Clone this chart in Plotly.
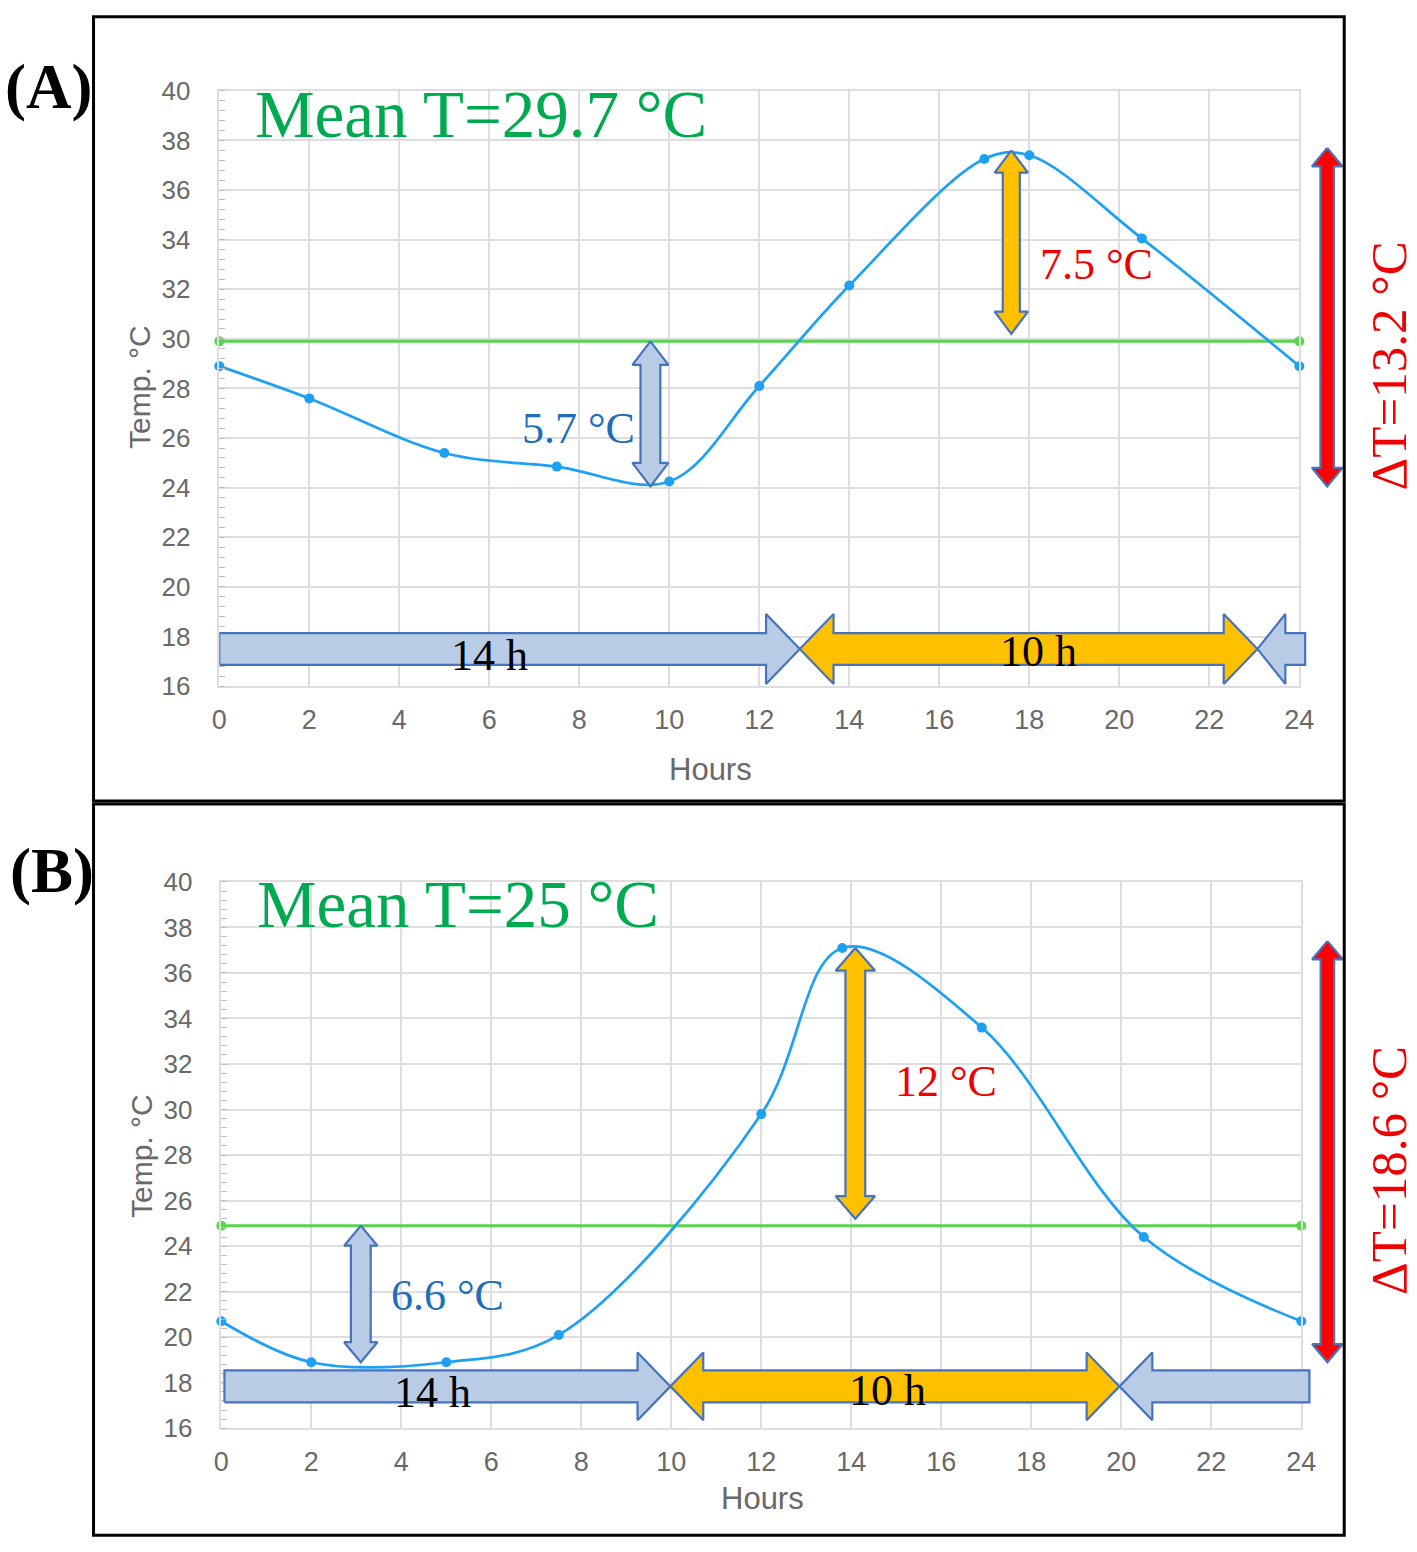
import plotly.graph_objects as go

W, H = 1417, 1552

# ---------------- data ----------------
hours_a = [0, 2, 5, 7.5, 10, 12, 14, 17, 18, 20.5, 24]
temp_a = [28.9, 27.6, 25.4, 24.85, 24.25, 28.1, 32.15, 37.25, 37.4, 34.05, 28.9]
mean_a = 29.9
mean_label_a = "Mean T=29.7 °C"

hours_b = [0, 2, 5, 7.5, 12, 13.8, 16.9, 20.5, 24]
temp_b = [20.7, 18.9, 18.9, 20.1, 29.8, 37.1, 33.6, 24.4, 20.7]
mean_b = 24.9
mean_label_b = "Mean T=25 °C"

x_ticks = list(range(0, 25, 2))
y_ticks = list(range(16, 41, 2))

# annotation arrows: (x position [h], y from, y to, label)
low_arrow_a = (9.58, 29.9, 24.05, "5.7 °C")
high_arrow_a = (17.6, 37.6, 30.2, "7.5 °C")
range_arrow_a = (24.62, 37.7, 24.05, "ΔT=13.2 °C")
bars_a_y = 17.5
bars_a = [(0.0, 12.9, "day"), (12.9, 23.07, "night"), (23.07, 24.13, "day_end")]
bar_labels_a = [(6.0, 17.25, "14 h"), (18.2, 17.4, "10 h")]

low_arrow_b = (3.1, 24.9, 18.9, "6.6 °C")
high_arrow_b = (14.09, 37.1, 25.2, "12 °C")
range_arrow_b = (24.58, 37.4, 18.9, "ΔT=18.6 °C")
bars_b_y = 17.84
bars_b = [(0.07, 9.98, "day"), (9.98, 19.96, "night"), (19.96, 24.18, "day_end")]
bar_labels_b = [(4.7, 17.58, "14 h"), (14.8, 17.67, "10 h")]

# ---------------- styling ----------------
SANS = "Liberation Sans, Arial, sans-serif"
SERIF = "Liberation Serif, Times New Roman, serif"
LINE_BLUE = "rgb(30,160,245)"
MEAN_GREEN = "rgb(90,212,80)"
OUTLINE = "rgb(70,115,190)"
FILL_BLUE = "rgb(184,204,230)"
FILL_ORANGE = "rgb(255,192,0)"
FILL_RED = "rgb(255,0,0)"
TEXT_GREEN = "rgb(0,170,80)"
TEXT_BLUE = "rgb(30,110,185)"
TEXT_RED = "rgb(240,0,0)"
GRID = "rgb(222,222,222)"
TICKC = "rgb(105,105,105)"

# page-to-picture correction measured from earlier renders
OX, SX = 6.3, 0.9856
OY, SY = 13.1, 0.9818


def px(x):
    return ((x - OX) / SX) / W


def py(y):
    return 1 - ((y - OY) / SY) / H


def clamp(v):
    return min(max(v, 0.0012), 0.9988)


# panel domains (pixel-based layout, in reference picture pixels)
dom_a_x = [px(218), px(1300)]
dom_a_y = [py(685), py(89)]
dom_b_x = [px(220), px(1302)]
dom_b_y = [py(1428), py(881)]


def varrow(xc, y0, y1, hw_body, hw_head, hl):
    top, bot = max(y0, y1), min(y0, y1)
    xs = [xc, xc + hw_head, xc + hw_body, xc + hw_body, xc + hw_head, xc,
          xc - hw_head, xc - hw_body, xc - hw_body, xc - hw_head, xc]
    ys = [top, top - hl, top - hl, bot + hl, bot + hl, bot,
          bot + hl, bot + hl, top - hl, top - hl, top]
    return xs, ys


def harrow(x0, x1, yc, hb, hh, hl, left, right):
    xs, ys = [], []
    if left:
        xs += [x0, x0 + hl, x0 + hl]
        ys += [yc, yc + hh, yc + hb]
    else:
        xs += [x0, x0]
        ys += [yc - hb, yc + hb]
    if right:
        xs += [x1 - hl, x1 - hl, x1, x1 - hl, x1 - hl]
        ys += [yc + hb, yc + hh, yc, yc - hh, yc - hb]
    else:
        xs += [x1, x1]
        ys += [yc + hb, yc - hb]
    if left:
        xs += [x0 + hl, x0 + hl, x0]
        ys += [yc - hb, yc - hh, yc]
    else:
        xs += [x0]
        ys += [yc - hb]
    return xs, ys


fig = go.Figure()


def add_panel(i, hours, temps, mean):
    xa = "x" if i == 1 else "x2"
    ya = "y" if i == 1 else "y2"
    fig.add_trace(go.Scatter(x=[0, 24], y=[mean, mean], mode="lines+markers",
                             line=dict(color=MEAN_GREEN, width=3),
                             marker=dict(size=10, color=MEAN_GREEN),
                             xaxis=xa, yaxis=ya, showlegend=False, cliponaxis=False))
    fig.add_trace(go.Scatter(x=hours, y=temps, mode="lines+markers",
                             line=dict(color=LINE_BLUE, width=2.7, shape="spline", smoothing=1.0),
                             marker=dict(size=10, color=LINE_BLUE),
                             xaxis=xa, yaxis=ya, showlegend=False, cliponaxis=False))


def add_poly(xs, ys, fill, ov):
    fig.add_trace(go.Scatter(x=xs, y=ys, mode="lines", fill="toself", fillcolor=fill,
                             line=dict(color=OUTLINE, width=2.2),
                             xaxis="x" + ov, yaxis="y" + ov, showlegend=False,
                             hoverinfo="skip"))


add_panel(1, hours_a, temp_a, mean_a)
add_panel(2, hours_b, temp_b, mean_b)

# --- panel A arrows ---
for (xc, y0, y1, _), fill, dims in [
    (low_arrow_a, FILL_BLUE, (0.22, 0.40, 0.95)),
    (high_arrow_a, FILL_ORANGE, (0.19, 0.37, 0.9)),
    (range_arrow_a, FILL_RED, (0.15, 0.34, 0.75)),
]:
    xs, ys = varrow(xc, y0, y1, *dims)
    add_poly(xs, ys, fill, "3")

for x0, x1, kind in bars_a:
    if kind == "day":
        xs, ys = harrow(x0, x1, bars_a_y, 0.64, 1.41, 0.75, False, True)
        add_poly(xs, ys, FILL_BLUE, "3")
    elif kind == "night":
        xs, ys = harrow(x0, x1, bars_a_y, 0.64, 1.41, 0.75, True, True)
        add_poly(xs, ys, FILL_ORANGE, "3")
    else:
        xs, ys = harrow(x0, x1, bars_a_y, 0.64, 1.41, 0.62, True, False)
        add_poly(xs, ys, FILL_BLUE, "3")

# --- panel B arrows ---
for (xc, y0, y1, _), fill, dims in [
    (low_arrow_b, FILL_BLUE, (0.22, 0.37, 0.88)),
    (high_arrow_b, FILL_ORANGE, (0.22, 0.44, 1.0)),
    (range_arrow_b, FILL_RED, (0.15, 0.34, 0.8)),
]:
    xs, ys = varrow(xc, y0, y1, *dims)
    add_poly(xs, ys, fill, "4")

for x0, x1, kind in bars_b:
    if kind == "day":
        xs, ys = harrow(x0, x1, bars_b_y, 0.70, 1.49, 0.73, False, True)
        add_poly(xs, ys, FILL_BLUE, "4")
    elif kind == "night":
        xs, ys = harrow(x0, x1, bars_b_y, 0.70, 1.49, 0.73, True, True)
        add_poly(xs, ys, FILL_ORANGE, "4")
    else:
        xs, ys = harrow(x0, x1, bars_b_y, 0.70, 1.49, 0.73, True, False)
        add_poly(xs, ys, FILL_BLUE, "4")


def main_x(domain, anchor):
    return dict(domain=domain, range=[0, 24], tickvals=x_ticks, showgrid=True,
                gridcolor=GRID, gridwidth=1.5, zeroline=False, showline=True,
                linecolor=GRID, linewidth=1.5, mirror=True, ticks="",
                ticklabelstandoff=9, anchor=anchor,
                tickfont=dict(family=SANS, size=27, color=TICKC))


def main_y(domain, anchor):
    return dict(domain=domain, range=[16, 40], tickvals=y_ticks, showgrid=True,
                gridcolor=GRID, gridwidth=1.5, zeroline=False, showline=True,
                linecolor=GRID, linewidth=1.5, mirror=True, ticks="",
                ticklabelstandoff=22, anchor=anchor,
                minor=dict(ticks="inside", dtick=0.4, tick0=16, ticklen=6,
                           tickcolor="rgb(190,190,190)", showgrid=False),
                tickfont=dict(family=SANS, size=26, color=TICKC))


def overlay_x(domain, anchor):
    d0, d1 = domain
    D1 = 1.0
    return dict(domain=[d0, D1], range=[0, 24 * (D1 - d0) / (d1 - d0)], visible=False,
                anchor=anchor, showgrid=False, zeroline=False)


def overlay_y(domain, anchor):
    return dict(domain=domain, range=[16, 40], visible=False, anchor=anchor,
                showgrid=False, zeroline=False)


annotations = []


def add_texts(xref, yref, ovx, ovy, mean_label, low, high, rng, bar_labels,
              low_dx, high_dx, low_y, high_y, rng_x, rng_y):
    annotations.append(dict(x=0.75, y=39.05, xref=xref, yref=yref, text=mean_label,
                            showarrow=False, xanchor="left", yanchor="middle",
                            font=dict(family=SERIF, size=67, color=TEXT_GREEN)))
    annotations.append(dict(x=low[0] + low_dx, y=low_y, xref=xref, yref=yref, text=low[3],
                            showarrow=False, xanchor="left" if low_dx > 0 else "right",
                            yanchor="middle",
                            font=dict(family=SERIF, size=44, color=TEXT_BLUE)))
    annotations.append(dict(x=high[0] + high_dx, y=high_y, xref=xref, yref=yref, text=high[3],
                            showarrow=False, xanchor="left", yanchor="middle",
                            font=dict(family=SERIF, size=44, color=TEXT_RED)))
    annotations.append(dict(x=rng_x, y=rng_y, xref=ovx, yref=ovy, text=rng[3],
                            showarrow=False, textangle=-90, xanchor="center", yanchor="middle",
                            font=dict(family=SERIF, size=51, color=TEXT_RED)))
    for bx, by, lab in bar_labels:
        annotations.append(dict(x=bx, y=by, xref=xref, yref=yref, text=lab,
                                showarrow=False, xanchor="center", yanchor="middle",
                                font=dict(family=SERIF, size=44, color="black")))


add_texts("x", "y", "x3", "y3", mean_label_a, low_arrow_a, high_arrow_a, range_arrow_a,
          bar_labels_a, -0.3, 0.6, 26.4, 33.0, 26.0, 28.9)
add_texts("x2", "y2", "x4", "y4", mean_label_b, low_arrow_b, high_arrow_b, range_arrow_b,
          bar_labels_b, 0.63, 0.84, 21.84, 31.25, 25.95, 27.3)

# axis titles and panel labels
for txt, xpix, ypix, ang, size in [("Hours", 710, 768, 0, 31), ("Hours", 762, 1498, 0, 31),
                                   ("Temp. °C", 138, 385, -90, 30), ("Temp. °C", 140, 1155, -90, 30)]:
    annotations.append(dict(x=px(xpix), y=py(ypix), xref="paper", yref="paper", text=txt,
                            showarrow=False, textangle=ang, xanchor="center", yanchor="middle",
                            font=dict(family=SANS, size=size, color=TICKC)))

annotations.append(dict(x=px(47), y=py(85), xref="paper", yref="paper", text="<b>(A)</b>",
                        showarrow=False, xanchor="center", yanchor="middle",
                        font=dict(family=SERIF, size=63, color="black")))
annotations.append(dict(x=px(50), y=py(870), xref="paper", yref="paper", text="<b>(B)</b>",
                        showarrow=False, xanchor="center", yanchor="middle",
                        font=dict(family=SERIF, size=63, color="black")))

shapes = [
    dict(type="rect", xref="paper", yref="paper", x0=px(92), x1=px(1345),
         y0=py(800), y1=clamp(py(8)), line=dict(color="black", width=3)),
    dict(type="rect", xref="paper", yref="paper", x0=px(92), x1=px(1345),
         y0=clamp(py(1547)), y1=py(803), line=dict(color="black", width=3)),
]

fig.update_layout(
    width=W, height=H,
    margin=dict(l=0, r=0, t=0, b=0),
    paper_bgcolor="white", plot_bgcolor="rgba(0,0,0,0)",
    xaxis=main_x(dom_a_x, "y"),
    yaxis=main_y(dom_a_y, "x"),
    xaxis2=main_x(dom_b_x, "y2"),
    yaxis2=main_y(dom_b_y, "x2"),
    xaxis3=overlay_x(dom_a_x, "y3"),
    yaxis3=overlay_y(dom_a_y, "x3"),
    xaxis4=overlay_x(dom_b_x, "y4"),
    yaxis4=overlay_y(dom_b_y, "x4"),
    annotations=annotations,
    shapes=shapes,
    showlegend=False,
)

fig.write_html("out.html", config={"displayModeBar": False},
               post_script="document.body.style.margin='0';document.body.style.overflow='hidden';")
